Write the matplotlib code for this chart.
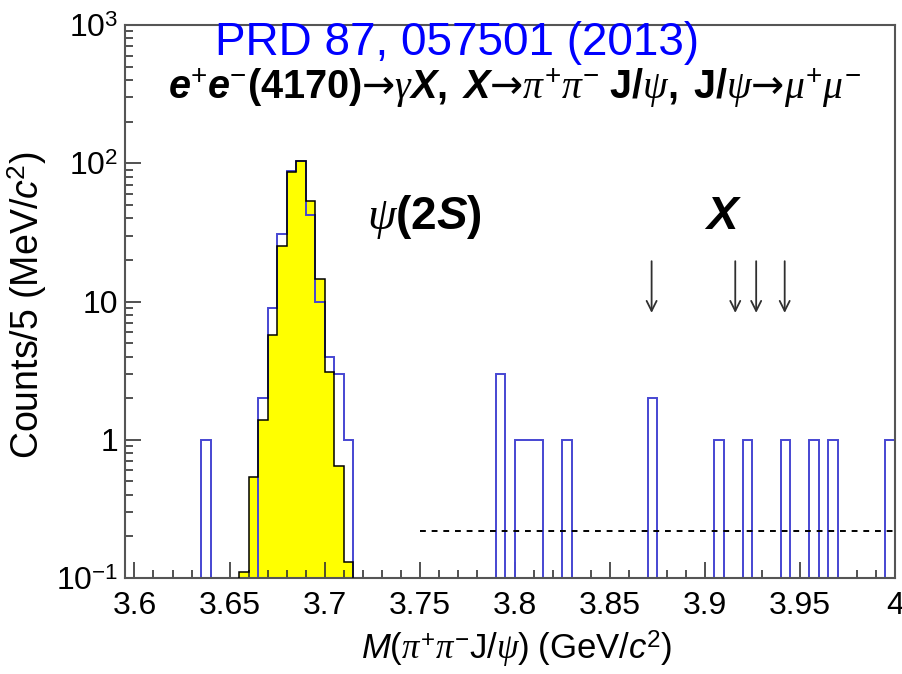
import numpy as np
import matplotlib
matplotlib.use("Agg")
import matplotlib.pyplot as plt
from matplotlib.ticker import MultipleLocator, LogLocator, NullFormatter

plt.rcParams.update({
    "font.family": "Liberation Sans",
    "mathtext.fontset": "custom",
    "mathtext.rm": "Liberation Sans",
    "mathtext.it": "Liberation Serif:italic",
    "mathtext.bf": "Liberation Sans:bold",
    "mathtext.bfit": "Liberation Sans:bold:italic",
    "mathtext.sf": "Liberation Sans:italic",
    "mathtext.tt": "DejaVu Sans",
})

bin_width = 0.005
x_lo, x_hi = 3.595, 4.0

# data (blue outline): lower bin edge and entries
data_lo = [3.635, 3.665, 3.670, 3.675, 3.680, 3.685, 3.690, 3.695, 3.700, 3.705, 3.710,
           3.790, 3.800, 3.805, 3.810, 3.825, 3.870, 3.905, 3.920, 3.940, 3.955, 3.965, 3.995]
data_n = [1, 2, 9, 31, 88, 104, 42, 10, 4, 3, 1,
          3, 1, 1, 1, 1, 2, 1, 1, 1, 1, 1, 1]

# psi(2S) MC shape (yellow)
mc_lo = [3.655, 3.660, 3.665, 3.670, 3.675, 3.680, 3.685, 3.690, 3.695, 3.700, 3.705, 3.710]
mc_n = [0.11, 0.54, 1.4, 5.7, 25, 86, 104, 53, 14.5, 3.1, 0.65, 0.13]

# expected X positions and upper-limit line
arrow_x = [3.872, 3.916, 3.927, 3.942]
limit_level = 0.22
limit_start = 3.75

xticks = [3.6, 3.65, 3.7, 3.75, 3.8, 3.85, 3.9, 3.95, 4.0]
xtick_labels = ["3.6", "3.65", "3.7", "3.75", "3.8", "3.85", "3.9", "3.95", "4"]
yticks = [0.1, 1, 10, 100, 1000]
ytick_labels = [r"$10^{-1}$", "1", "10", r"$10^{2}$", r"$10^{3}$"]

# full histogram arrays
edges = np.round(np.arange(x_lo, x_hi + 1e-9, bin_width), 3)
floor = 0.1
h = np.full(len(edges) - 1, floor)
idx = np.round((np.array(data_lo) - x_lo) / bin_width).astype(int)
h[idx] = data_n
mc_edges = np.append(mc_lo, mc_lo[-1] + bin_width)

fig = plt.figure(figsize=(9.03, 6.74), dpi=100)
ax = fig.add_axes([0.1384, 0.1424, 0.8527, 0.8205])

ax.stairs(mc_n, mc_edges, baseline=floor, fill=True, color="#ffff00", zorder=1)
ax.stairs(h, edges, baseline=floor, color="#4646d2", lw=1.4, zorder=2, clip_on=False)
ax.stairs(mc_n, mc_edges, baseline=floor, color="black", lw=1.1, zorder=3)

ax.plot([limit_start, x_hi], [limit_level, limit_level], ls=(0, (3, 3)),
        color="black", lw=1.4, zorder=4)

for xa in arrow_x:
    ax.annotate("", xy=(xa, 7.9), xytext=(xa, 20.5),
                arrowprops=dict(arrowstyle="->", color="#303030", lw=1.3,
                                mutation_scale=18))

ax.text(3.7525, 41, r"$\psi\mathbf{(2}\mathbfit{S}\mathbf{)}$", fontsize=33,
        ha="center", va="center")
ax.text(3.9095, 41, r"$\mathbfit{X}$", fontsize=34, ha="center", va="center")

ax.set_yscale("log")
ax.set_xlim(x_lo, x_hi)
ax.set_ylim(0.1, 1000)
ax.set_xticks(xticks)
ax.set_xticklabels(xtick_labels)
ax.xaxis.set_minor_locator(MultipleLocator(0.01))
ax.set_yticks(yticks)
ax.set_yticklabels(ytick_labels)
ax.yaxis.set_minor_locator(LogLocator(base=10, subs=np.arange(2, 10)))
ax.yaxis.set_minor_formatter(NullFormatter())
ax.tick_params(which="both", direction="in", top=False, right=False,
               color="#333333", labelsize=23, width=1.2)
ax.tick_params(which="major", length=11.5)
ax.tick_params(which="minor", length=5.5)
ax.tick_params(axis="x", pad=9)
ax.tick_params(axis="y", pad=5)
for s in ax.spines.values():
    s.set_color("#555555")
    s.set_linewidth(1.5)

# axis titles
fig.text(0.572, 0.036,
         r"$\mathsf{M}\mathrm{(}\pi^{+}\pi^{-}\mathrm{J/}\psi\mathrm{)\ (GeV/}\mathsf{c}^{2}\mathrm{)}$",
         fontsize=25, ha="center", va="center")
fig.text(0.030, 0.547, r"Counts/5 (MeV/$\mathsf{c}^{2}$)", fontsize=27,
         rotation=90, ha="center", va="center")

fig.text(0.506, 0.936, "PRD 87, 057501 (2013)", color="#0000ff", fontsize=33,
         ha="center", va="center")
fig.text(0.570, 0.869,
         r"$\mathbfit{e}^{+}\mathbfit{e}^{-}\mathbf{(4170)}\mathtt{→}\gamma\mathbfit{X}\mathbf{,\ }"
         r"\mathbfit{X}\mathtt{→}\pi^{+}\pi^{-}\mathbf{\ J/}\psi\mathbf{,\ J/}\psi\mathtt{→}\mu^{+}\mu^{-}$",
         fontsize=28.5, ha="center", va="center")

fig.savefig("out.png", dpi=100)
